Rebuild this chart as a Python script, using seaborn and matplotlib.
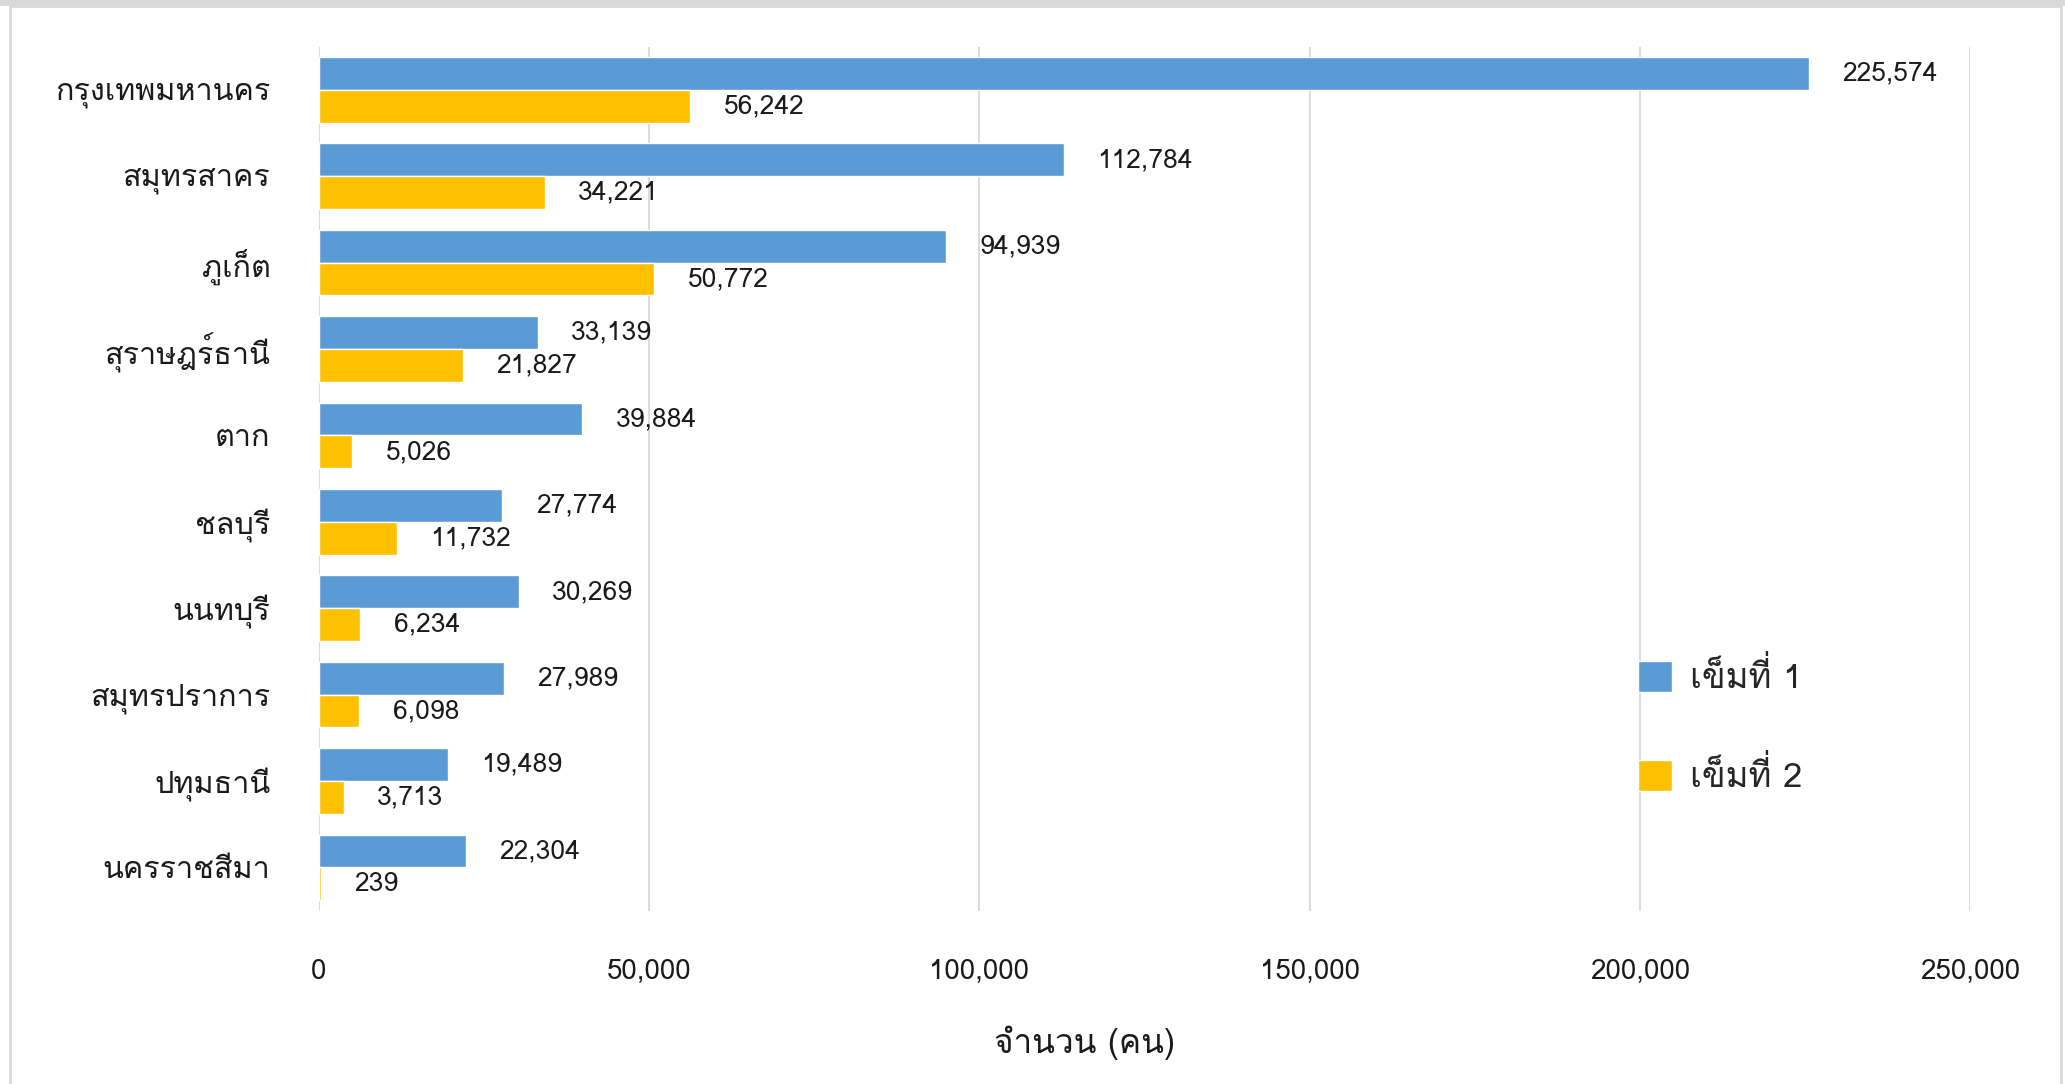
import pandas as pd
import matplotlib
matplotlib.use("Agg")
import matplotlib.pyplot as plt
import seaborn as sns
from matplotlib import font_manager
from matplotlib.ft2font import FT2Font
from matplotlib.patches import Rectangle

provinces = [
    "กรุงเทพมหานคร", "สมุทรสาคร", "ภูเก็ต", "สุราษฎร์ธานี", "ตาก",
    "ชลบุรี", "นนทบุรี", "สมุทรปราการ", "ปทุมธานี", "นครราชสีมา",
]
dose_1 = [225574, 112784, 94939, 33139, 39884, 27774, 30269, 27989, 19489, 22304]
dose_2 = [56242, 34221, 50772, 21827, 5026, 11732, 6234, 6098, 3713, 239]
dose_names = ["เข็มที่ 1", "เข็มที่ 2"]
x_ticks = [0, 50000, 100000, 150000, 200000, 250000]

BLUE = "#5B9BD5"
GOLD = "#FFC000"

# find any installed font that has Thai glyphs
thai_font = None
for path in sorted(font_manager.findSystemFonts()):
    try:
        if 0x0E01 in FT2Font(path).get_charmap():
            font_manager.fontManager.addfont(path)
            thai_font = font_manager.FontProperties(fname=path).get_name()
            break
    except Exception:
        pass

sns.set_style("white")
families = ["DejaVu Sans"]
if thai_font:
    families = [thai_font, "DejaVu Sans"]
plt.rcParams["font.family"] = families

df = pd.DataFrame({
    "province": provinces * 2,
    "dose": [dose_names[0]] * len(provinces) + [dose_names[1]] * len(provinces),
    "count": dose_1 + dose_2,
})

fig = plt.figure(figsize=(20.65, 10.84), dpi=100)
ax = fig.add_axes([0.1545, 0.160, 0.954 - 0.1545, 0.957 - 0.160])

sns.barplot(
    data=df,
    y="province",
    x="count",
    hue="dose",
    orient="h",
    palette=[BLUE, GOLD],
    width=0.76,
    saturation=1,
    errorbar=None,
    ax=ax,
)

for cont in ax.containers:
    vals = [int(b.get_width()) for b in cont]
    ax.bar_label(cont, labels=[f"{v:,}" for v in vals], padding=24, fontsize=19, color="#1a1a1a")

ax.set_xlim(0, 250000)
ax.set_xticks(x_ticks)
ax.set_xticklabels([f"{t:,}" for t in x_ticks], fontsize=20, color="#1a1a1a")
ax.tick_params(axis="x", length=0, pad=35)
ax.tick_params(axis="y", length=0, pad=35, labelsize=22, labelcolor="#1a1a1a")
for lbl in ax.get_yticklabels():
    lbl.set_va("center_baseline")
ax.grid(axis="x", color="#D9D9D9", linewidth=1.3)
ax.set_axisbelow(True)
for s in ax.spines.values():
    s.set_visible(False)

ax.set_ylabel("")
ax.set_xlabel("จำนวน (คน)", fontsize=24, color="#1a1a1a")
ax.xaxis.set_label_coords(0.4637, -0.133)

leg = ax.legend(
    loc="upper left",
    bbox_to_anchor=(0.793, 0.393),
    bbox_transform=fig.transFigure,
    frameon=False,
    fontsize=25,
    handlelength=1.0,
    handleheight=1.0,
    handletextpad=0.5,
    labelspacing=1.8,
    borderpad=0,
    borderaxespad=0,
)

# light frame around the chart area
fig.patches.append(Rectangle((10 / 2065, -0.05), (2061 - 10) / 2065, 1 - 6 / 1084 + 0.05,
                             transform=fig.transFigure, fill=False,
                             edgecolor="#D9D9D9", linewidth=2))
fig.patches.append(Rectangle((0, 1 - 6 / 1084), 1, 6 / 1084,
                             transform=fig.transFigure, facecolor="#D9D9D9",
                             edgecolor="none"))

fig.savefig("out.png", dpi=100)
